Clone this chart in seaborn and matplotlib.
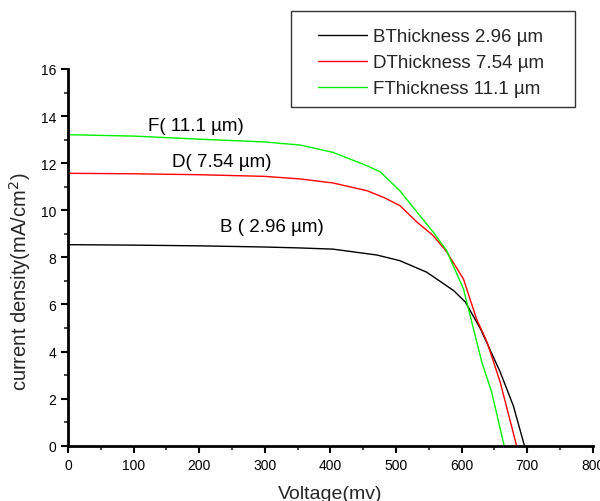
import numpy as np
import pandas as pd
import matplotlib
matplotlib.use("Agg")
import matplotlib.pyplot as plt
import seaborn as sns
from matplotlib.ticker import MultipleLocator
from matplotlib.patches import Rectangle

# Data
vB = [0, 100, 200, 300, 354, 404, 471, 506, 547, 588, 606, 629, 659, 679, 696]
jB = [8.54, 8.52, 8.49, 8.44, 8.40, 8.35, 8.10, 7.86, 7.37, 6.59, 6.10, 4.96, 3.13, 1.70, 0.0]

vD = [0, 100, 200, 300, 354, 404, 456, 481, 506, 532, 557, 577, 603, 623, 639, 659, 684]
jD = [11.57, 11.55, 11.51, 11.44, 11.33, 11.16, 10.83, 10.55, 10.20, 9.50, 8.92, 8.25, 7.08, 5.38, 4.40, 2.70, 0.0]

vF = [0, 100, 200, 300, 354, 404, 456, 476, 506, 532, 557, 577, 603, 631, 646, 665]
jF = [13.21, 13.15, 13.02, 12.90, 12.77, 12.46, 11.89, 11.63, 10.83, 9.93, 9.07, 8.30, 6.66, 3.55, 2.28, 0.0]

labels = ["BThickness 2.96 µm", "DThickness 7.54 µm", "FThickness 11.1 µm"]
colors = ["#000000", "#ff0000", "#00f000"]
annot_text = ["B ( 2.96 µm)", "D( 7.54 µm)", "F( 11.1 µm)"]
annot_v = [232, 159, 122]
annot_j = [9.33, 12.09, 13.62]

df = pd.concat([
    pd.DataFrame({"V": vB, "J": jB, "s": labels[0]}),
    pd.DataFrame({"V": vD, "J": jD, "s": labels[1]}),
    pd.DataFrame({"V": vF, "J": jF, "s": labels[2]}),
])

sns.set_style("white")
plt.rcParams["font.family"] = ["Liberation Sans", "DejaVu Sans"]

W, H = 600, 502
fig = plt.figure(figsize=(W / 100, H / 100), dpi=100)
ax = fig.add_axes([0.1133, 0.110, 0.8745, 0.7506])

sns.lineplot(data=df, x="V", y="J", hue="s", palette=colors, sort=False,
             estimator=None, linewidth=1.0, ax=ax, legend=True)

for t, v, j in zip(annot_text, annot_v, annot_j):
    ax.text(v, j, t, fontsize=13.5, ha="left", va="center", color="black")

ax.set_xlim(0, 800)
ax.set_ylim(0, 16)
ax.xaxis.set_major_locator(MultipleLocator(100))
ax.xaxis.set_minor_locator(MultipleLocator(50))
ax.yaxis.set_major_locator(MultipleLocator(2))
ax.yaxis.set_minor_locator(MultipleLocator(1))
ax.tick_params(which="major", direction="out", length=5, width=1.5,
               labelsize=10, bottom=True, left=True, colors="black")
ax.tick_params(which="minor", direction="out", length=3, width=1.2,
               bottom=True, left=True)
for side in ["top", "right"]:
    ax.spines[side].set_visible(False)
for side in ["left", "bottom"]:
    ax.spines[side].set_linewidth(2)
    ax.spines[side].set_color("black")

ax.set_xlabel("Voltage(mv)", fontsize=14, labelpad=10)
ax.set_ylabel("current density(mA/cm$^2$)", fontsize=14.5)
ax.yaxis.set_label_coords(-0.0667, 0.437)

# legend frame drawn as a figure-level rectangle
fig.patches.append(Rectangle((291 / W, 1 - 108 / H), (575 - 291) / W, 96 / H,
                             transform=fig.transFigure, fill=False,
                             edgecolor="#333333", linewidth=1.0, zorder=5))
leg = ax.legend(loc="upper left", bbox_to_anchor=(318 / W, 1 - 29 / H),
                bbox_transform=fig.transFigure, frameon=False,
                fontsize=13.5, handlelength=2.6, handletextpad=0.32,
                borderpad=0, labelspacing=0.48, borderaxespad=0)
for line in leg.get_lines():
    line.set_linewidth(1.0)

fig.savefig("out.png", dpi=100)
